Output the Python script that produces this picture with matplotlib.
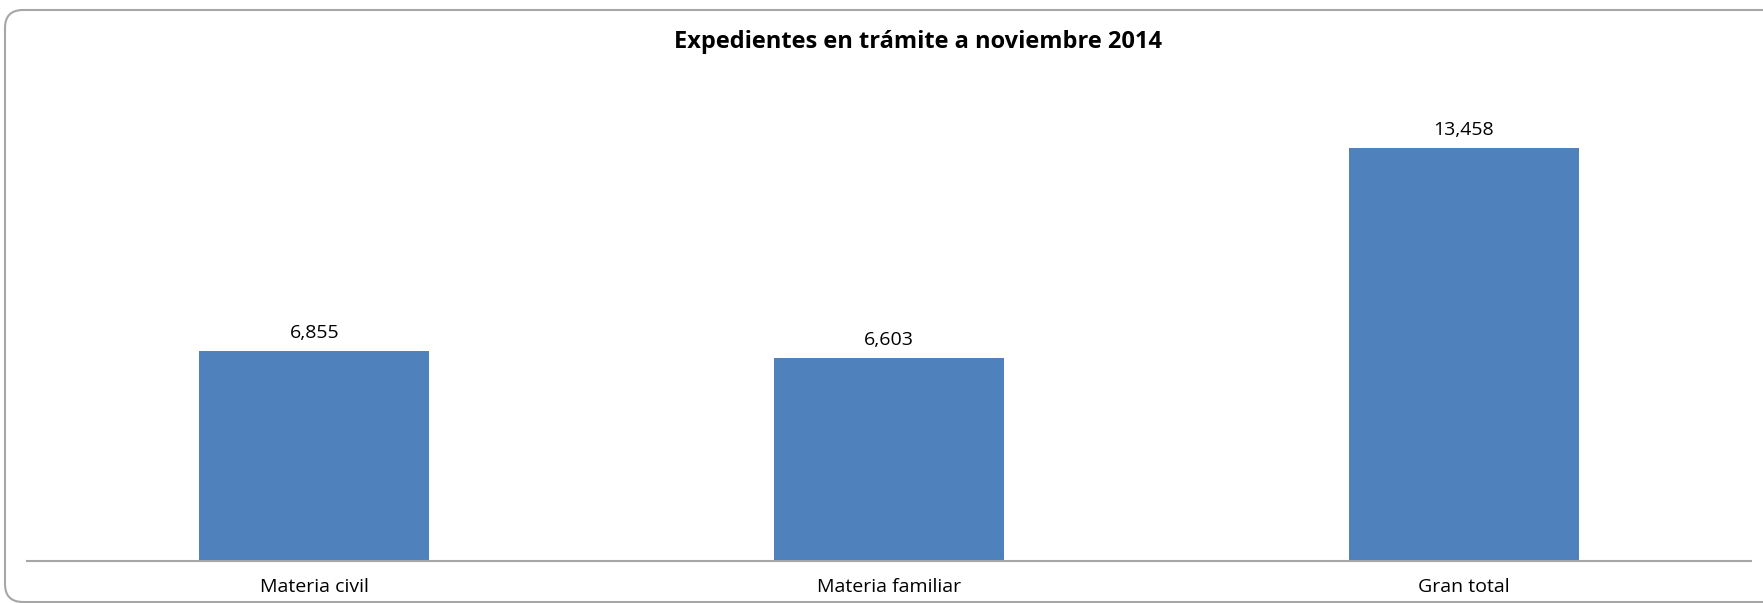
import matplotlib
matplotlib.use("Agg")
import matplotlib.pyplot as plt
from matplotlib.patches import FancyBboxPatch

categories = ["Materia civil", "Materia familiar", "Gran total"]
values = [6855, 6603, 13458]
value_labels = ["6,855", "6,603", "13,458"]
title = "Expedientes en trámite a noviembre 2014"

W, H = 1763, 603
fig = plt.figure(figsize=(W / 100, H / 100), dpi=100)
plt.rcParams['font.family'] = ['Open Sans', 'DejaVu Sans']

# background axes in pixel coordinates for the rounded border
bg = fig.add_axes([0, 0, 1, 1])
bg.set_xlim(0, W)
bg.set_ylim(H, 0)
bg.axis("off")
border = FancyBboxPatch((5, 10), 1785, 592,
                        boxstyle="round,pad=0,rounding_size=18",
                        fill=False, edgecolor="#a6a6a6", linewidth=1.5,
                        clip_on=False)
bg.add_patch(border)

ax_left, ax_right = 27, 1751
ax_top, ax_bottom = 70, 561
ax = fig.add_axes([ax_left / W, 1 - ax_bottom / H, (ax_right - ax_left) / W,
                   (ax_bottom - ax_top) / H])
x = range(len(categories))
ax.bar(x, values, width=0.4, color="#4f81bd")
ax.set_xlim(-0.5, len(categories) - 0.5)
ax.set_ylim(0, 16000)
ax.set_xticks(list(x))
ax.set_xticklabels(categories, fontsize=14)
ax.tick_params(axis="x", length=0, pad=12)
ax.set_yticks([])
ax.patch.set_alpha(0)
for s in ["left", "right", "top"]:
    ax.spines[s].set_visible(False)
ax.spines["bottom"].set_color("#a6a6a6")
ax.spines["bottom"].set_linewidth(1.5)
for xi, v, lab in zip(x, values, value_labels):
    ax.annotate(lab, (xi, v), xytext=(0, 9.4), textcoords="offset points",
                ha="center", va="baseline", fontsize=14)

fig.text(918 / W, 1 - 48 / H, title, ha="center", va="baseline",
         fontsize=17, fontweight="bold")

fig.savefig("out.png", dpi=100, facecolor="white")
